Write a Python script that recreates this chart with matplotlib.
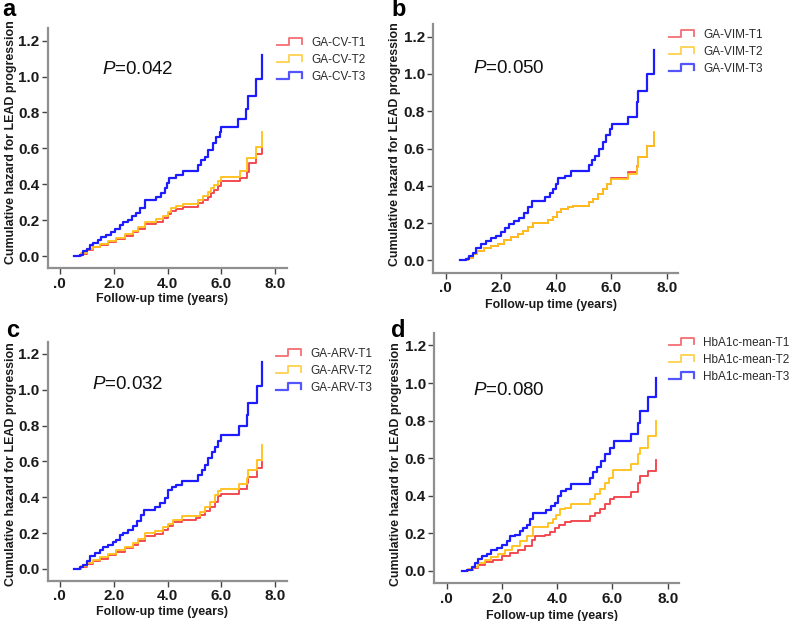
import numpy as np
import matplotlib
matplotlib.use("Agg")
import matplotlib.pyplot as plt
from matplotlib.lines import Line2D
from matplotlib.legend_handler import HandlerBase

plt.rcParams['font.family'] = ['Liberation Sans', 'DejaVu Sans']
plt.rcParams['mathtext.fontset'] = 'custom'
plt.rcParams['mathtext.rm'] = 'Liberation Sans'
plt.rcParams['mathtext.it'] = 'Liberation Sans:italic'

# ------------------------------------------------------------
# data (follow-up years, cumulative hazard)
# ------------------------------------------------------------

# panel a: GA-CV
a_t1_time = [0.52, 0.80, 0.99, 1.23, 1.48, 1.79, 2.10, 2.41, 2.72, 2.90, 3.15, 3.58, 3.83, 4.01, 4.14,
             4.32, 4.57, 5.12, 5.31, 5.49, 5.62, 5.74, 5.86, 5.99, 6.67, 6.95, 7.01, 7.28, 7.51]
a_t1_haz = [0.0, 0.013, 0.035, 0.05, 0.065, 0.079, 0.096, 0.116, 0.135, 0.153, 0.181, 0.194, 0.212, 0.235, 0.253,
            0.264, 0.273, 0.295, 0.314, 0.332, 0.351, 0.369, 0.393, 0.419, 0.438, 0.471, 0.521, 0.572, 0.60]
a_t2_time = [0.52, 0.80, 0.99, 1.23, 1.48, 1.79, 2.10, 2.41, 2.72, 2.90, 3.15, 3.58, 3.83, 4.01, 4.14,
             4.32, 4.57, 5.12, 5.31, 5.49, 5.62, 5.74, 5.86, 5.99, 6.67, 6.95, 7.28, 7.51]
a_t2_haz = [0.0, 0.017, 0.039, 0.055, 0.07, 0.087, 0.105, 0.124, 0.144, 0.163, 0.192, 0.207, 0.225, 0.249, 0.268,
            0.283, 0.292, 0.314, 0.338, 0.36, 0.379, 0.397, 0.421, 0.443, 0.475, 0.548, 0.609, 0.689]
a_t3_time = [0.52, 0.74, 0.86, 0.99, 1.11, 1.23, 1.42, 1.54, 1.73, 1.91, 2.04, 2.22, 2.35, 2.53, 2.69,
             2.84, 2.96, 3.15, 3.58, 3.77, 3.89, 3.98, 4.07, 4.32, 4.57, 5.12, 5.25, 5.37, 5.49, 5.68,
             5.80, 5.93, 5.99, 6.63, 6.91, 6.98, 7.28, 7.51]
a_t3_haz = [0.0, 0.009, 0.028, 0.042, 0.065, 0.074, 0.092, 0.107, 0.12, 0.135, 0.153, 0.175, 0.19, 0.203, 0.222,
            0.24, 0.268, 0.314, 0.332, 0.351, 0.379, 0.406, 0.434, 0.452, 0.476, 0.508, 0.536, 0.554, 0.591, 0.628,
            0.665, 0.693, 0.72, 0.763, 0.822, 0.892, 0.988, 1.117]

# panel b: GA-VIM
b_t1_time = [0.52, 0.79, 0.97, 1.15, 1.39, 1.64, 1.88, 2.12, 2.36, 2.61, 2.79, 2.97, 3.15, 3.70, 3.88,
             4.04, 4.18, 4.42, 4.61, 5.18, 5.33, 5.52, 5.70, 5.85, 6.00, 6.61, 6.91, 6.97, 7.27, 7.54]
b_t1_haz = [0.0, 0.014, 0.032, 0.05, 0.064, 0.075, 0.09, 0.108, 0.126, 0.14, 0.158, 0.181, 0.199, 0.215, 0.233,
            0.257, 0.275, 0.287, 0.293, 0.311, 0.329, 0.356, 0.383, 0.41, 0.442, 0.472, 0.505, 0.555, 0.611, 0.685]
b_t2_time = [0.52, 0.79, 0.97, 1.15, 1.39, 1.64, 1.88, 2.12, 2.36, 2.61, 2.79, 2.97, 3.15, 3.70, 3.88,
             4.04, 4.18, 4.42, 4.61, 5.18, 5.33, 5.52, 5.70, 5.85, 6.00, 6.61, 6.91, 6.97, 7.27, 7.54]
b_t2_haz = [0.0, 0.014, 0.032, 0.05, 0.064, 0.075, 0.09, 0.108, 0.126, 0.14, 0.158, 0.181, 0.199, 0.215, 0.233,
            0.257, 0.275, 0.287, 0.293, 0.311, 0.329, 0.356, 0.383, 0.41, 0.437, 0.466, 0.5, 0.553, 0.611, 0.688]
b_t3_time = [0.52, 0.73, 0.85, 0.97, 1.09, 1.27, 1.45, 1.64, 1.82, 2.00, 2.15, 2.30, 2.48, 2.67, 2.82,
             2.97, 3.12, 3.58, 3.76, 3.88, 4.00, 4.08, 4.30, 4.55, 5.18, 5.30, 5.42, 5.54, 5.70, 5.82,
             5.94, 6.02, 6.61, 6.91, 6.97, 7.27, 7.54]
b_t3_haz = [0.0, 0.01, 0.023, 0.041, 0.068, 0.086, 0.104, 0.118, 0.131, 0.154, 0.172, 0.197, 0.212, 0.23, 0.253,
            0.284, 0.316, 0.338, 0.359, 0.383, 0.41, 0.44, 0.455, 0.478, 0.514, 0.539, 0.562, 0.598, 0.634, 0.67,
            0.706, 0.733, 0.769, 0.848, 0.91, 1.0, 1.13]

# panel c: GA-ARV
c_t1_time = [0.52, 0.80, 0.99, 1.24, 1.49, 1.79, 2.10, 2.41, 2.72, 2.91, 3.16, 3.53, 3.84, 4.02, 4.21,
             4.52, 5.07, 5.20, 5.38, 5.57, 5.75, 5.88, 6.00, 6.66, 6.93, 6.99, 7.30, 7.50]
c_t1_haz = [0.0, 0.011, 0.028, 0.043, 0.057, 0.076, 0.094, 0.117, 0.135, 0.157, 0.185, 0.196, 0.219, 0.237, 0.259,
            0.274, 0.283, 0.302, 0.324, 0.348, 0.376, 0.404, 0.417, 0.446, 0.478, 0.515, 0.561, 0.598]
c_t2_time = [0.52, 0.80, 0.99, 1.24, 1.49, 1.79, 2.10, 2.41, 2.72, 2.91, 3.16, 3.53, 3.84, 4.02, 4.21,
             4.52, 5.20, 5.38, 5.57, 5.75, 5.88, 6.00, 6.66, 6.93, 6.99, 7.30, 7.50]
c_t2_haz = [0.0, 0.015, 0.033, 0.05, 0.065, 0.083, 0.104, 0.124, 0.144, 0.169, 0.198, 0.209, 0.231, 0.252, 0.272,
            0.293, 0.32, 0.343, 0.376, 0.413, 0.435, 0.446, 0.474, 0.51, 0.55, 0.607, 0.69]
c_t3_time = [0.52, 0.74, 0.87, 0.99, 1.11, 1.30, 1.49, 1.61, 1.79, 1.98, 2.10, 2.23, 2.35, 2.54, 2.72,
             2.87, 3.03, 3.12, 3.53, 3.71, 3.90, 4.02, 4.15, 4.33, 4.52, 5.14, 5.26, 5.38, 5.51, 5.63,
             5.75, 5.88, 5.98, 6.66, 6.93, 6.99, 7.30, 7.50]
c_t3_haz = [0.0, 0.009, 0.024, 0.043, 0.07, 0.089, 0.107, 0.122, 0.135, 0.15, 0.163, 0.191, 0.2, 0.219, 0.237,
            0.265, 0.302, 0.33, 0.344, 0.367, 0.394, 0.441, 0.459, 0.469, 0.493, 0.524, 0.552, 0.58, 0.62, 0.654,
            0.681, 0.713, 0.75, 0.798, 0.857, 0.928, 1.02, 1.154]

# panel d: HbA1c-mean
d_t1_time = [0.54, 0.78, 0.96, 1.14, 1.38, 1.68, 1.99, 2.29, 2.59, 2.83, 3.07, 3.19, 3.55, 3.73, 3.91,
             4.06, 4.27, 4.51, 5.17, 5.35, 5.54, 5.72, 5.90, 6.04, 6.68, 6.94, 6.98, 7.28, 7.56]
d_t1_haz = [0.0, 0.005, 0.018, 0.032, 0.045, 0.059, 0.077, 0.095, 0.113, 0.134, 0.163, 0.184, 0.19, 0.206, 0.229,
            0.247, 0.259, 0.265, 0.292, 0.309, 0.331, 0.354, 0.381, 0.394, 0.42, 0.47, 0.506, 0.533, 0.592]
d_t2_time = [0.54, 0.78, 0.96, 1.14, 1.38, 1.62, 1.87, 2.11, 2.35, 2.65, 2.89, 3.13, 3.67, 3.85, 3.97,
             4.09, 4.27, 4.51, 5.17, 5.35, 5.54, 5.72, 5.86, 6.02, 6.68, 6.94, 6.98, 7.28, 7.56]
d_t2_haz = [0.0, 0.009, 0.023, 0.041, 0.059, 0.073, 0.091, 0.113, 0.134, 0.157, 0.184, 0.234, 0.256, 0.277, 0.297,
            0.327, 0.336, 0.354, 0.385, 0.408, 0.435, 0.47, 0.497, 0.538, 0.569, 0.623, 0.653, 0.717, 0.796]
d_t3_time = [0.54, 0.72, 0.90, 1.02, 1.14, 1.26, 1.44, 1.62, 1.81, 1.99, 2.17, 2.29, 2.47, 2.65, 2.77,
             2.89, 3.01, 3.13, 3.61, 3.79, 3.91, 4.03, 4.13, 4.33, 4.51, 5.17, 5.29, 5.44, 5.60, 5.74,
             5.90, 6.04, 6.68, 6.94, 6.98, 7.28, 7.56]
d_t3_haz = [0.0, 0.005, 0.023, 0.041, 0.063, 0.077, 0.091, 0.109, 0.122, 0.14, 0.157, 0.184, 0.193, 0.211, 0.229,
            0.247, 0.277, 0.309, 0.324, 0.345, 0.363, 0.399, 0.426, 0.438, 0.462, 0.497, 0.524, 0.551, 0.587, 0.623,
            0.653, 0.689, 0.73, 0.789, 0.85, 0.925, 1.029]

panel_letters = ['a', 'b', 'c', 'd']
p_values = ['0.042', '0.050', '0.032', '0.080']
group_names = [['GA-CV-T1', 'GA-CV-T2', 'GA-CV-T3'],
               ['GA-VIM-T1', 'GA-VIM-T2', 'GA-VIM-T3'],
               ['GA-ARV-T1', 'GA-ARV-T2', 'GA-ARV-T3'],
               ['HbA1c-mean-T1', 'HbA1c-mean-T2', 'HbA1c-mean-T3']]
curves = [[(a_t1_time, a_t1_haz), (a_t2_time, a_t2_haz), (a_t3_time, a_t3_haz)],
          [(b_t1_time, b_t1_haz), (b_t2_time, b_t2_haz), (b_t3_time, b_t3_haz)],
          [(c_t1_time, c_t1_haz), (c_t2_time, c_t2_haz), (c_t3_time, c_t3_haz)],
          [(d_t1_time, d_t1_haz), (d_t2_time, d_t2_haz), (d_t3_time, d_t3_haz)]]

x_ticks = [0, 2, 4, 6, 8]
x_ticklabels = ['.0', '2.0', '4.0', '6.0', '8.0']
y_ticks = [0.0, 0.2, 0.4, 0.6, 0.8, 1.0, 1.2]
y_ticklabels = ['0.0', '0.2', '0.4', '0.6', '0.8', '1.0', '1.2']

# ------------------------------------------------------------
# layout (pixels in a 796 x 621 figure)
# ------------------------------------------------------------
W, H = 796, 621
colors = ['#f2444c', '#ffc21c', '#1c1cff']
widths = [1.35, 1.35, 1.6]

# left, right, top, bottom of each axes box
boxes = [(47.7, 286.7, 28.3, 268.3),
         (433.3, 678.3, 24.0, 272.7),
         (47.7, 286.7, 341.7, 580.7),
         (434.3, 679.3, 332.7, 583.3)]
ylabel_y = [0.524, 0.515, 0.488, 0.476]
letter_pos = [(2, 16), (391, 16), (6, 337), (391, 337)]
p_pos = [(1.57, 1.04), (0.99, 1.03), (1.20, 1.03), (0.96, 0.962)]
legend_pos = [(277, 37), (669, 29), (276, 348), (669, 337)]


class StepHandler(HandlerBase):
    # little step-shaped legend key, like the SPSS output
    def create_artists(self, legend, orig_handle, xdescent, ydescent, width, height, fontsize, trans):
        xs = np.array([0, 0.47, 0.47, 1.0, 1.0]) * width - xdescent
        ys = np.array([0.05, 0.05, 0.95, 0.95, 0.15]) * height - ydescent
        ln = Line2D(xs, ys, color=orig_handle.get_color(), lw=orig_handle.get_linewidth(), alpha=0.75)
        ln.set_transform(trans)
        return [ln]


fig = plt.figure(figsize=(W / 100, H / 100), dpi=100)

for i in range(4):
    l, r, t, b = boxes[i]
    ax = fig.add_axes([l / W, 1 - b / H, (r - l) / W, (b - t) / H])

    handles = []
    for k in range(3):
        tt, hh = curves[i][k]
        ln, = ax.plot(tt, hh, drawstyle='steps-post', color=colors[k], lw=widths[k])
        handles.append(ln)

    ax.set_xlim(-0.45, 8.42)
    ax.set_ylim(-0.066, 1.268)
    for s in ['top', 'right']:
        ax.spines[s].set_visible(False)
    for s in ['left', 'bottom']:
        ax.spines[s].set_color('#8f8f8f')
        ax.spines[s].set_linewidth(1.6)

    ax.set_xticks(x_ticks)
    ax.set_xticklabels(x_ticklabels)
    ax.set_yticks(y_ticks)
    ax.set_yticklabels(y_ticklabels)
    ax.tick_params(direction='out', length=4, width=1, color='#444444', pad=2,
                   labelsize=11, labelcolor='#1a1a1a')
    for lab in ax.get_xticklabels() + ax.get_yticklabels():
        lab.set_fontweight('bold')

    ax.set_xlabel('Follow-up time (years)', fontsize=8.9, fontweight='bold', color='#1a1a1a')
    ax.set_ylabel('Cumulative hazard for LEAD progression', fontsize=8.9, fontweight='bold', color='#1a1a1a')
    ax.xaxis.set_label_coords(0.48, -0.105)
    ax.yaxis.set_label_coords(-0.13, ylabel_y[i])

    ax.text(p_pos[i][0], p_pos[i][1], '$P$=' + p_values[i], fontsize=13.5, va='center', color='#111111')

    lx, ly = legend_pos[i]
    fig.legend(handles, group_names[i], loc='upper left', bbox_to_anchor=(lx / W, 1 - ly / H),
               frameon=False, fontsize=8.5, handlelength=2.1, handleheight=0.6, handletextpad=0.8,
               labelspacing=0.42, borderpad=0, borderaxespad=0, labelcolor='#2a2a2a',
               handler_map={Line2D: StepHandler()})

    fig.text(letter_pos[i][0] / W, 1 - letter_pos[i][1] / H, panel_letters[i],
             fontsize=17, fontweight='bold', va='baseline', ha='left')

fig.savefig('out.png', dpi=100)
